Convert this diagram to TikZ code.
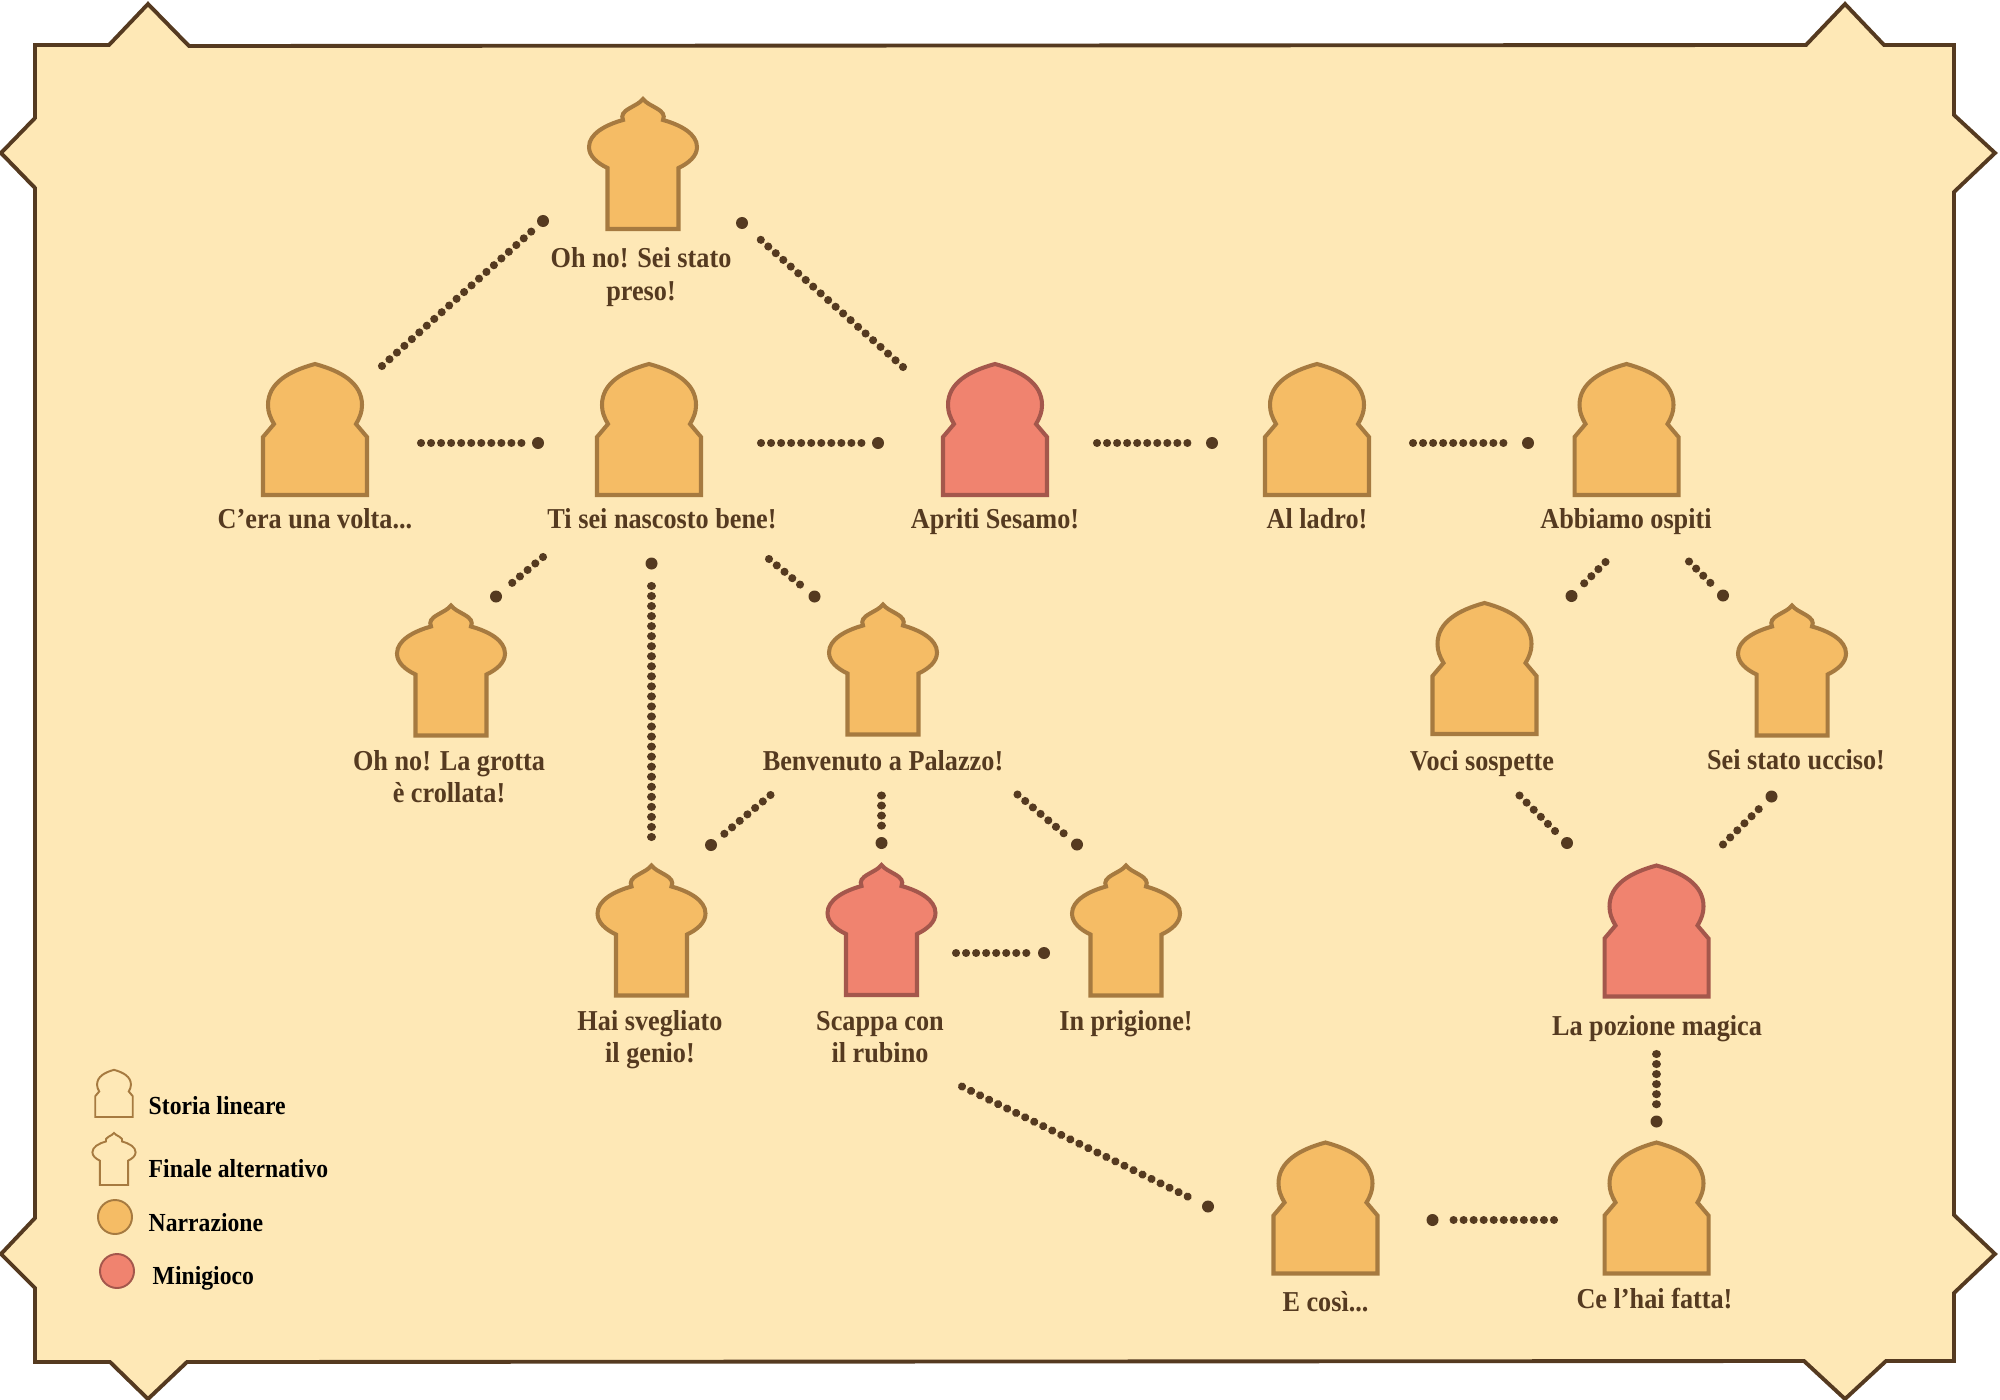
\documentclass[tikz,border=0pt]{standalone}
\usepackage{fontspec}
\setmainfont{Liberation Serif}[BoldFeatures={FakeStretch=0.91}]
\definecolor{parchment}{HTML}{FEE8B6}
\definecolor{framebrown}{HTML}{553A20}
\definecolor{narrfill}{HTML}{F5BC65}
\definecolor{narrline}{HTML}{A67A40}
\definecolor{minifill}{HTML}{F0836F}
\definecolor{miniline}{HTML}{A4574C}
\tikzset{
	archshape/.pic={
		\path[pic actions] (-52,0) -- (-52,-58) -- (-41,-71)
			.. controls (-45,-78) and (-47,-83) .. (-47,-90)
			.. controls (-47,-112) and (-26,-124) .. (0,-131)
			.. controls (26,-124) and (47,-112) .. (47,-90)
			.. controls (47,-83) and (45,-78) .. (41,-71)
			-- (52,-58) -- (52,0) -- cycle;
	},
	onionshape/.pic={
		\path[pic actions] (-35.5,0) -- (-35.5,-61)
			.. controls (-46,-66) and (-54,-73) .. (-54,-82)
			.. controls (-54,-95) and (-38,-104) .. (-20,-109)
			.. controls (-22,-114) and (-20,-117) .. (-13,-121)
			.. controls (-8,-124) and (-3,-126) .. (0,-130)
			.. controls (3,-126) and (8,-124) .. (13,-121)
			.. controls (20,-117) and (22,-114) .. (20,-109)
			.. controls (38,-104) and (54,-95) .. (54,-82)
			.. controls (54,-73) and (46,-66) .. (35.5,-61)
			-- (35.5,0) -- cycle;
	},
	narr/.style={draw=narrline,fill=narrfill,line width=1.15pt},
	mini/.style={draw=miniline,fill=minifill,line width=1.15pt},
	blank/.style={draw=narrline,fill=parchment,line width=0.55pt},
}
\begin{document}
\begin{tikzpicture}[x=0.01cm,y=-0.01cm]
		\useasboundingbox (0,0) rectangle (2000,1400);

		% frame
		\draw[draw=framebrown,fill=parchment,line width=1.1pt,miter limit=10]
			(35,45) -- (109,45) -- (148,4) -- (189,46) -- (1806,45) -- (1845,4) -- (1884,45)
			-- (1954,45) -- (1954,115) -- (1995,153) -- (1954,192) -- (1954,1215) -- (1995,1254)
			-- (1954,1293) -- (1954,1361) -- (1886,1361) -- (1845,1399) -- (1804,1361)
			-- (187,1362) -- (148,1399) -- (110,1362) -- (35,1362) -- (35,1288) -- (1,1254)
			-- (35,1218) -- (35,188) -- (1,153) -- (35,118) -- cycle;

		% story shapes
		\pic[narr] (preso) at (643,229) {onionshape};
		\pic[narr] (volta) at (315,495) {archshape};
		\pic[narr] (nascosto) at (649,495) {archshape};
		\pic[mini] (sesamo) at (995,495) {archshape};
		\pic[narr] (ladro) at (1317,495) {archshape};
		\pic[narr] (ospiti) at (1626.5,495) {archshape};
		\pic[narr] (grotta) at (451,735.5) {onionshape};
		\pic[narr] (palazzo) at (883,734.5) {onionshape};
		\pic[narr] (voci) at (1484.5,734) {archshape};
		\pic[narr] (ucciso) at (1792,735.5) {onionshape};
		\pic[narr] (genio) at (651.5,995.5) {onionshape};
		\pic[mini] (rubino) at (881.5,995) {onionshape};
		\pic[narr] (prigione) at (1126,995.5) {onionshape};
		\pic[mini] (pozione) at (1656.5,996.5) {archshape};
		\pic[narr] (cosi) at (1325.5,1273.5) {archshape};
		\pic[narr] (fatta) at (1656.5,1273.5) {archshape};

		% legend shapes
		\pic[blank,scale=0.36] (keylinear) at (114,1117) {archshape};
		\pic[blank,scale=0.4] (keyfinal) at (114,1185) {onionshape};
		\node[circle,draw=narrline,fill=narrfill,line width=0.55pt,inner sep=0pt,minimum size=34*0.2845pt] (keynarr) at (115,1217) {};
		\node[circle,draw=miniline,fill=minifill,line width=0.55pt,inner sep=0pt,minimum size=34*0.2845pt] (keymini) at (117,1271) {};

		\begin{scope}[every node/.style={anchor=base,align=center,inner sep=0pt,text=framebrown,font=\bfseries\fontsize{8.2}{9.1}\selectfont}]
			\node (presotext) at (641,300) {Oh no! Sei stato\\preso!};
			\node (voltatext) at (315,528) {C'era una volta...};
			\node (nascostotext) at (662,528) {Ti sei nascosto bene!};
			\node (sesamotext) at (995,528) {Apriti Sesamo!};
			\node (ladrotext) at (1317,528) {Al ladro!};
			\node (ospititext) at (1626,528) {Abbiamo ospiti};
			\node (grottatext) at (449,802) {Oh no! La grotta\\è crollata!};
			\node (palazzotext) at (883,770) {Benvenuto a Palazzo!};
			\node (vocitext) at (1482,770) {Voci sospette};
			\node (uccisotext) at (1796,769) {Sei stato ucciso!};
			\node (geniotext) at (650,1062) {Hai svegliato\\il genio!};
			\node (rubinotext) at (880,1062) {Scappa con\\il rubino};
			\node (prigionetext) at (1126,1030) {In prigione!};
			\node (pozionetext) at (1657,1035) {La pozione magica};
			\node (cositext) at (1325.5,1311) {E così...};
			\node (fattatext) at (1654.5,1308.5) {Ce l'hai fatta!};
		\end{scope}

		\begin{scope}[every node/.style={anchor=base west,inner sep=0pt,text=black,font=\bfseries\fontsize{7.4}{9}\selectfont}]
			\node (keylineartext) at (148,1114) {Storia lineare};
			\node (keyfinaltext) at (148,1177) {Finale alternativo};
			\node (keynarrtext) at (148,1231) {Narrazione};
			\node (keyminitext) at (152,1284) {Minigioco};
		\end{scope}

		% trail ends
		\begin{scope}[every node/.style={circle,fill=framebrown,inner sep=0pt,minimum size=12*0.2845pt}]
			\node (d1) at (543,221) {};
			\node (d2) at (742,223) {};
			\node (d3) at (538,443) {};
			\node (d4) at (878,443) {};
			\node (d5) at (1212,443) {};
			\node (d6) at (1528,443) {};
			\node (d7) at (496,596.5) {};
			\node (d8) at (651.5,563.5) {};
			\node (d9) at (814.5,596.5) {};
			\node (d10) at (1571.5,596) {};
			\node (d11) at (1723,595.5) {};
			\node (d12) at (711,845) {};
			\node (d13) at (881.5,843) {};
			\node (d14) at (1077,844.5) {};
			\node (d15) at (1567,843) {};
			\node (d16) at (1771.5,796.5) {};
			\node (d17) at (1044,953) {};
			\node (d18) at (1656.5,1121.5) {};
			\node (d19) at (1208,1206.5) {};
			\node (d20) at (1432.5,1220) {};
		\end{scope}

		\coordinate (s1) at (382,366);
		\coordinate (s2) at (903,367);
		\coordinate (s3) at (421,443);
		\coordinate (s4) at (761,443);
		\coordinate (s5) at (1097,443);
		\coordinate (s6) at (1413,443);
		\coordinate (s7) at (543,557);
		\coordinate (s8) at (651.5,837);
		\coordinate (s9) at (769,559);
		\coordinate (s10) at (1605.5,562);
		\coordinate (s11) at (1689,561.5);
		\coordinate (s12) at (770.5,795);
		\coordinate (s13) at (881.5,795.5);
		\coordinate (s14) at (1017.5,794.5);
		\coordinate (s15) at (1519.5,795.5);
		\coordinate (s16) at (1723,844.5);
		\coordinate (s17) at (956,953);
		\coordinate (s18) at (1656.5,1054);
		\coordinate (s19) at (962,1086.5);
		\coordinate (s20) at (1554,1220);

		\begin{scope}[every edge/.style={draw=framebrown,line width=2.3pt,line cap=round,dash pattern=on 0.01pt off 2.845pt,shorten >=2.5pt}]
			\path (s1) edge (d1);
			\path (s2) edge (d2);
			\path (s3) edge (d3);
			\path (s4) edge (d4);
			\path (s5) edge (d5);
			\path (s6) edge (d6);
			\path (s7) edge (d7);
			\path (s8) edge (d8);
			\path (s9) edge (d9);
			\path (s10) edge (d10);
			\path (s11) edge (d11);
			\path (s12) edge (d12);
			\path (s13) edge (d13);
			\path (s14) edge (d14);
			\path (s15) edge (d15);
			\path (s16) edge (d16);
			\path (s17) edge (d17);
			\path (s18) edge (d18);
			\path (s19) edge (d19);
			\path (s20) edge (d20);
		\end{scope}

	\end{tikzpicture}
\end{document}
